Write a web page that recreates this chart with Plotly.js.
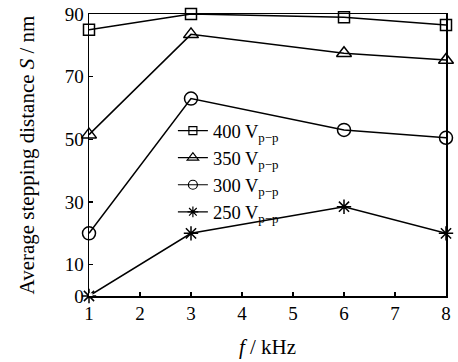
<!DOCTYPE html>
<html>
<head>
<meta charset="utf-8">
<script src="https://cdn.plot.ly/plotly-3.0.1.min.js"></script>
<style>html,body{margin:0;padding:0;background:#fff;}#chart{width:458px;height:362px;}</style>
</head>
<body>
<div id="chart"></div>
<script>
const freq = [1, 3, 6, 8];
const s400 = [85, 90, 89, 86.5];
const s350 = [51.5, 83.5, 77.5, 75.3];
const s300 = [20, 63, 53, 50.5];
const s250 = [0, 20, 28.5, 20];
const seriesNames = ['400 V<sub>p−p</sub>', '350 V<sub>p−p</sub>', '300 V<sub>p−p</sub>', '250 V<sub>p−p</sub>'];
const yTicks = [0, 10, 30, 50, 70, 90];
const xTicks = [1, 2, 3, 4, 5, 6, 7, 8];

const symbols = ['square-open', 'triangle-up-open', 'circle-open', 'asterisk-open'];
const sizes = [11, 13, 13, 12];
const legendSizes = [8, 10, 9, 9];
const data = [];
[s400, s350, s300, s250].forEach((ys, i) => {
  data.push({
    x: freq, y: ys, name: seriesNames[i], type: 'scatter', mode: 'lines+markers', showlegend: false,
    line: {color: '#000', width: 1.5},
    marker: {symbol: symbols[i], size: sizes[i], color: '#000', line: {color: '#000', width: 1.5}},
    cliponaxis: false
  });
});
// legend-only copies on a hidden subplot whose range excludes the data (nothing drawn there)
[s400, s350, s300, s250].forEach((ys, i) => {
  data.push({
    x: freq, y: ys, name: seriesNames[i], type: 'scatter', mode: 'lines+markers', showlegend: true,
    xaxis: 'x2', yaxis: 'y2', cliponaxis: true,
    line: {color: '#000', width: 1.2},
    marker: {symbol: symbols[i], size: legendSizes[i], color: '#000', line: {color: '#000', width: 1.2}}
  });
});

const FAM = 'Liberation Serif, Times New Roman, serif';
const f = (s) => ({family: FAM, size: s, color: '#000'});
const layout = {
  width: 458, height: 362,
  margin: {l: 89, r: 12, t: 14, b: 66},
  paper_bgcolor: '#fff', plot_bgcolor: '#fff',
  font: f(17),
  showlegend: true,
  legend: {x: 0.235, y: 0.652, xanchor: 'left', yanchor: 'top', bgcolor: 'rgba(0,0,0,0)',
    font: f(18.5), tracegroupgap: 0, itemwidth: 30},
  xaxis: {range: [1, 8], tickvals: xTicks, ticks: 'inside', ticklen: 4, tickwidth: 1.2, tickcolor: '#000',
    showline: true, linecolor: '#000', linewidth: 1.5, mirror: true, showgrid: false, zeroline: false,
    tickfont: f(19),
    title: {text: '<i>f</i> / kHz', font: f(21), standoff: 16}},
  yaxis: {range: [0, 90], tickvals: yTicks, ticks: 'inside', ticklen: 4, tickwidth: 1.2, tickcolor: '#000',
    showline: true, linecolor: '#000', linewidth: 1.5, mirror: true, showgrid: false, zeroline: false,
    tickfont: f(19),
    title: {text: 'Average stepping distance <i>S</i> / nm', font: f(21), standoff: 24}},
  xaxis2: {domain: [0, 0.01], anchor: 'y2', range: [100, 101], visible: false, showgrid: false, zeroline: false},
  yaxis2: {domain: [0, 0.01], anchor: 'x2', range: [1000, 1001], visible: false, showgrid: false, zeroline: false}
};
Plotly.newPlot('chart', data, layout, {displayModeBar: false, staticPlot: true});
</script>
</body>
</html>
